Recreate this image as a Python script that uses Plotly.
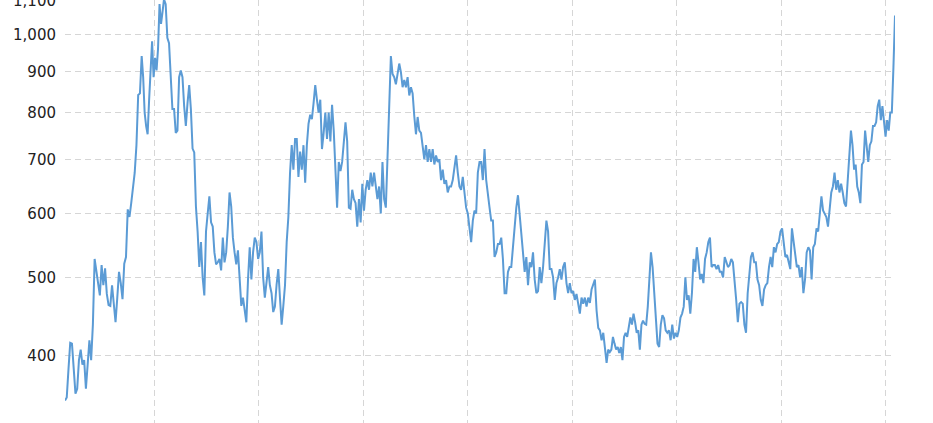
import numpy as np
import pandas as pd
import plotly.graph_objects as go

# Series values, read left to right
values = [
    352, 355, 385, 415, 414, 385, 359, 364, 395, 407, 390, 395, 364, 390, 418, 395,
    437, 527, 508, 489, 475, 518, 489, 513, 477, 462, 461, 489, 462, 440, 472, 508,
    492, 470, 520, 530, 607, 594, 618, 650, 674, 729, 841, 845, 940, 885, 800, 770,
    752, 830, 895, 980, 885, 935, 902, 960, 1090, 1030, 1065, 1105, 1090, 990, 975, 880,
    808, 808, 755, 760, 885, 902, 885, 815, 770, 822, 865, 808, 722, 714, 612, 570,
    515, 553, 500, 475, 570, 600, 630, 585, 578, 537, 519, 522, 527, 510, 560, 522,
    537, 578, 637, 612, 560, 537, 519, 540, 500, 461, 472, 455, 440, 497, 545, 497,
    537, 560, 553, 527, 537, 570, 500, 472, 492, 515, 489, 478, 453, 460, 490, 512,
    472, 437, 461, 489, 553, 594, 674, 729, 680, 742, 742, 666, 716, 680, 729, 655,
    729, 775, 795, 785, 822, 865, 830, 800, 830, 721, 755, 800, 742, 800, 737, 818,
    760, 660, 610, 695, 677, 695, 737, 778, 737, 610, 608, 642, 625, 618, 578, 625,
    585, 653, 605, 642, 660, 642, 674, 648, 674, 648, 625, 648, 600, 695, 625, 610,
    700, 808, 940, 893, 885, 867, 898, 920, 898, 860, 878, 860, 885, 840, 860, 845,
    792, 752, 790, 760, 755, 721, 700, 729, 695, 721, 695, 721, 690, 708, 695, 700,
    660, 680, 653, 660, 637, 648, 648, 660, 690, 708, 674, 648, 642, 666, 637, 610,
    600, 570, 553, 588, 605, 600, 674, 695, 695, 660, 721, 660, 630, 610, 588, 588,
    530, 537, 550, 550, 560, 527, 478, 478, 508, 515, 515, 550, 578, 610, 632, 600,
    570, 530, 508, 530, 489, 522, 515, 537, 497, 478, 481, 515, 492, 515, 545, 588,
    570, 512, 512, 500, 469, 492, 500, 512, 497, 515, 522, 492, 478, 492, 478, 481,
    469, 477, 464, 451, 472, 464, 472, 460, 472, 465, 483, 489, 497, 455, 433, 430,
    418, 427, 405, 392, 407, 404, 407, 422, 414, 407, 410, 403, 410, 395, 422, 427,
    422, 437, 446, 437, 451, 440, 427, 430, 407, 437, 442, 438, 437, 460, 497, 537,
    515, 483, 442, 414, 410, 437, 449, 445, 430, 427, 430, 418, 437, 420, 427, 422,
    430, 446, 451, 460, 500, 469, 475, 451, 478, 527, 508, 545, 522, 497, 505, 492,
    527, 537, 553, 560, 515, 518, 518, 512, 518, 508, 508, 500, 530, 522, 515, 518,
    527, 522, 497, 469, 440, 464, 466, 464, 437, 427, 478, 508, 530, 537, 522, 522,
    497, 489, 469, 461, 483, 489, 492, 515, 530, 515, 545, 537, 550, 553, 570, 575,
    553, 530, 533, 522, 512, 575, 553, 530, 515, 518, 500, 515, 478, 497, 537, 545,
    540, 497, 545, 550, 575, 570, 600, 630, 605, 600, 594, 578, 612, 637, 648, 674,
    642, 660, 637, 653, 637, 618, 612, 653, 708, 760, 729, 680, 690, 648, 637, 618,
    690, 695, 760, 721, 695, 729, 737, 770, 770, 778, 815, 830, 783, 815, 770, 747,
    783, 760, 800, 800, 910, 1055,
]

# Known dates of a few observations (index in values -> date)
anchor_index = [0, 44, 59, 194, 323, 351, 473, len(values) - 1]
anchor_dates = ["2016-02-24", "2016-11-18", "2017-02-04", "2019-04-08",
                "2021-05-01", "2021-10-03", "2023-09-02", "2024-02-03"]

anchor_ns = pd.to_datetime(anchor_dates).asi8.astype(float)
dates = pd.to_datetime(np.interp(np.arange(len(values)), anchor_index, anchor_ns).astype("int64"))

y_tick_vals = [400, 500, 600, 700, 800, 900, 1000, 1100]
y_tick_text = ["400", "500", "600", "700", "800", "900", "1,000", "1,100"]

fig = go.Figure()
fig.add_trace(go.Scatter(
    x=dates, y=values, mode="lines",
    line=dict(color="#5b9bd5", width=2),
    hoverinfo="skip", showlegend=False,
))

grid = dict(showgrid=True, gridcolor="#d6d6d6", gridwidth=1, griddash="6px,4px",
            zeroline=False, showline=False, automargin=False)

fig.update_layout(
    width=933, height=423,
    margin=dict(l=65, r=38, t=0, b=0),
    paper_bgcolor="white", plot_bgcolor="white",
    font=dict(family="DejaVu Sans, Verdana, sans-serif", size=15, color="#222222"),
    xaxis=dict(type="date", range=[dates[0], dates[-1]], tick0="2017-01-01",
               dtick="M12", showticklabels=False, ticks="", **grid),
    yaxis=dict(type="log", range=[2.5187, 3.0425], tickvals=y_tick_vals,
               ticktext=y_tick_text, ticks="", ticklabelstandoff=8,
               ticklabeloverflow="allow", **grid),
)

fig.write_html("out.html", config={"displayModeBar": False},
               post_script="document.body.style.margin='0';")
